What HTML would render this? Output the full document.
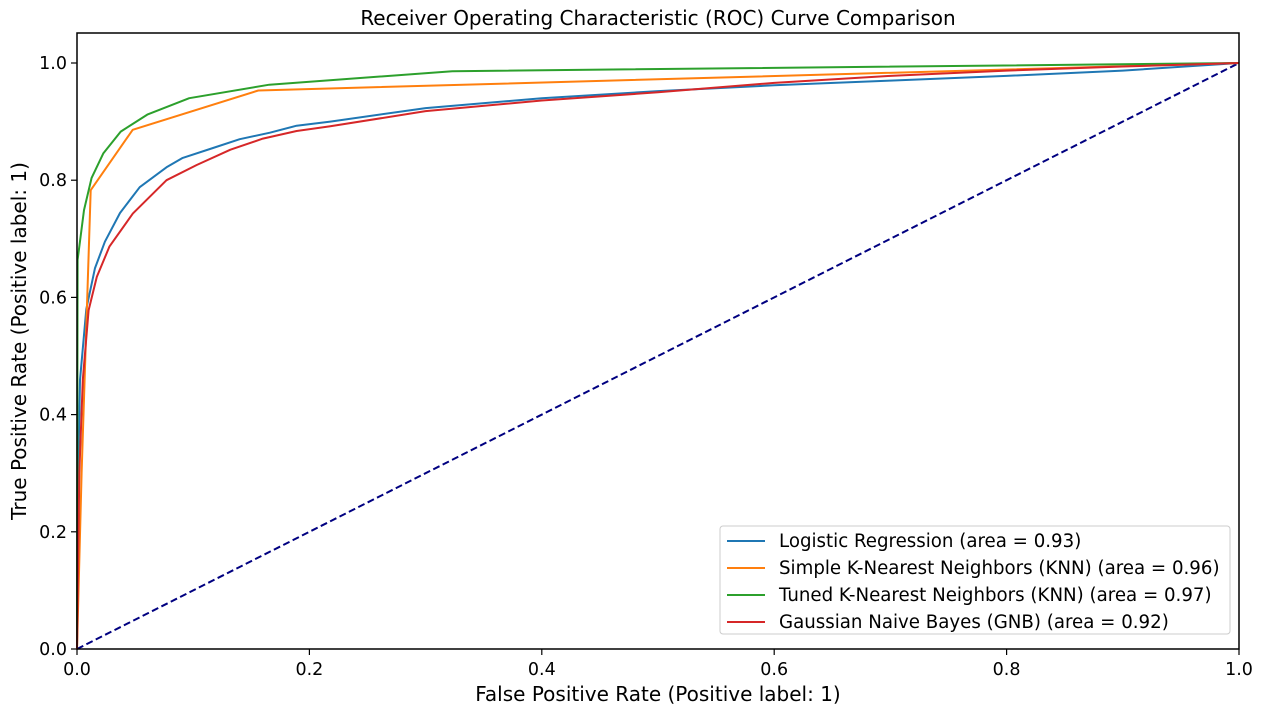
<!DOCTYPE html>
<html><head><meta charset="utf-8"><style>
body{margin:0;background:#fff;}
svg text{font-family:"DejaVu Sans","Liberation Sans",sans-serif;fill:#000;}
</style></head><body>
<svg id="chart" width="1263" height="715">
<text x="658" y="25" font-size="20" text-anchor="middle">Receiver Operating Characteristic (ROC) Curve Comparison</text>
<g id="axes"></g>
<g id="series"></g>
<rect x="77" y="33" width="1162" height="616" fill="none" stroke="#000" stroke-width="1.5"/>
<text x="658" y="701" font-size="20" text-anchor="middle">False Positive Rate (Positive label: 1)</text>
<text transform="translate(26,341) rotate(-90)" font-size="20" text-anchor="middle">True Positive Rate (Positive label: 1)</text>
<g>
<rect x="720" y="526" width="510" height="108" rx="3" fill="#fff" fill-opacity="0.8" stroke="#ccc"/>
<g id="legend-items"></g>
</g>
</svg>
<script>
const xTicks=[0,0.2,0.4,0.6,0.8,1.0];
const yTicks=[0,0.2,0.4,0.6,0.8,1.0];
const seriesNames=["Logistic Regression (area = 0.93)","Simple K-Nearest Neighbors (KNN) (area = 0.96)","Tuned K-Nearest Neighbors (KNN) (area = 0.97)","Gaussian Naive Bayes (GNB) (area = 0.92)"];
const seriesColors=["#1f77b4","#ff7f0e","#2ca02c","#d62728"];
const lrFpr=[0,0.001,0.0026,0.008,0.0155,0.024,0.037,0.054,0.077,0.091,0.117,0.14,0.166,0.189,0.218,0.3,0.4,0.5,0.6,0.7,0.8,0.9,1];
const lrTpr=[0,0.3,0.459,0.58,0.65,0.695,0.744,0.788,0.822,0.838,0.855,0.87,0.881,0.893,0.9,0.923,0.94,0.952,0.962,0.97,0.978,0.987,1];
const knnFpr=[0,0.004,0.0118,0.0479,0.156,1];
const knnTpr=[0,0.3,0.783,0.886,0.953,1];
const tknnFpr=[0,0.0005,0.006,0.0126,0.0227,0.0376,0.0605,0.0966,0.1655,0.323,1];
const tknnTpr=[0,0.664,0.749,0.804,0.846,0.883,0.912,0.94,0.963,0.986,1];
const gnbFpr=[0,0.002,0.005,0.01,0.017,0.028,0.048,0.077,0.103,0.132,0.16,0.189,0.218,0.3,0.4,0.5,0.6,0.7,0.8,0.9,1];
const gnbTpr=[0,0.3,0.459,0.578,0.635,0.687,0.743,0.8,0.826,0.852,0.871,0.884,0.892,0.918,0.936,0.95,0.966,0.978,0.987,0.994,1];
const X0=77,X1=1239,Y0=649,Y1=63;
const sx=v=>X0+v*(X1-X0), sy=v=>Y0-v*(Y0-Y1);
const NS="http://www.w3.org/2000/svg";
function mk(t,a,p){const e=document.createElementNS(NS,t);for(const k in a)e.setAttribute(k,a[k]);p.appendChild(e);return e;}
const axes=document.getElementById('axes');
xTicks.forEach(v=>{
 const l=mk('line',{x1:sx(v),x2:sx(v),y1:Y0,y2:Y0+6,stroke:'#000','stroke-width':1.2},axes);
 
 
 const t=mk('text',{x:sx(v),y:Y0+26,'font-size':17.5,'text-anchor':'middle'},axes);t.textContent=v.toFixed(1);
 
 
});
yTicks.forEach(v=>{
 const l=mk('line',{x1:X0-6,x2:X0,y1:sy(v),y2:sy(v),stroke:'#000','stroke-width':1.2},axes);
 
 
 const t=mk('text',{x:X0-10,y:sy(v)+6,'font-size':17.5,'text-anchor':'end'},axes);t.textContent=v.toFixed(1);
 
 
});
const sg=document.getElementById('series');
const diag=mk('line',{x1:sx(0),y1:sy(0),x2:sx(1),y2:sy(1),stroke:'#000080','stroke-width':2,'stroke-dasharray':'7,3.5'},sg);


const data=[[lrFpr,lrTpr],[knnFpr,knnTpr],[tknnFpr,tknnTpr],[gnbFpr,gnbTpr]];
const names=['logistic-regression-curve','simple-knn-curve','tuned-knn-curve','gnb-curve'];
data.forEach((d,i)=>{
 const pts=d[0].map((f,j)=>sx(f).toFixed(1)+','+sy(d[1][j]).toFixed(1)).join(' ');
 const p=mk('polyline',{points:pts,fill:'none',stroke:seriesColors[i],'stroke-width':2,'stroke-linejoin':'round'},sg);
 
 
});
const lg=document.getElementById('legend-items');
seriesNames.forEach((n,i)=>{
 const y=541+i*27;
 const l=mk('line',{x1:727,x2:765,y1:y,y2:y,stroke:seriesColors[i],'stroke-width':2},lg);
 
 
 const t=mk('text',{x:779,y:y+6,'font-size':18.2},lg);t.textContent=n;
 
 
});
</script>
</body></html>
